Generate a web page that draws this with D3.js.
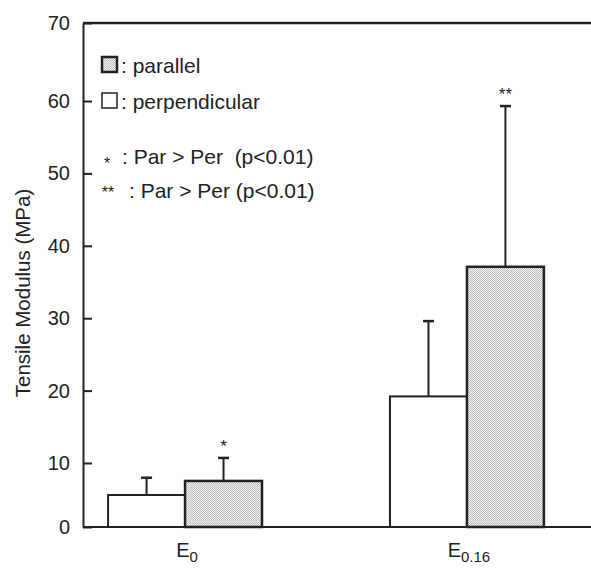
<!DOCTYPE html>
<html>
<head>
<meta charset="utf-8">
<script src="https://cdn.jsdelivr.net/npm/d3@7"></script>
<style>
  body { margin: 0; background: #fff; }
  svg text { font-family: "Liberation Sans", Arial, sans-serif; fill: #222; }
</style>
</head>
<body>
<div id="chart"></div>
<script>
// values
const categories = ["E", "E"];
const categorySubs = ["0", "0.16"];
const series = ["perpendicular", "parallel"];
const perpMean = [5.0, 19.2];
const perpSD = [2.7, 10.4];
const parMean = [7.2, 37.1];
const parSD = [3.5, 22.2];
const stars = ["*", "**"]; // placed over the parallel bar
const yTicks = [0, 10, 20, 30, 40, 50, 60, 70];

const legendRows = [
  {mark: "box", fill: "url(#dots)", text: ": parallel"},
  {mark: "box", fill: "#fff", text: ": perpendicular"},
  {mark: "*", text: ": Par > Per  (p<0.01)"},
  {mark: "**", text: ": Par > Per (p<0.01)"}
];

function main_chart(width = 591, height = 568){
  const margin = ({top: 23, right: 0, bottom: 41, left: 83});

  const svg = d3.select("#chart").append("svg")
    .attr("width", width)
    .attr("height", height);

  // stippled grey fill of the parallel bars
  const pat = svg.append("defs").append("pattern")
    .attr("id", "dots").attr("patternUnits", "userSpaceOnUse")
    .attr("width", 2).attr("height", 2);
  pat.append("rect").attr("width", 2).attr("height", 2).attr("fill", "#f2f2f2");
  pat.append("rect").attr("width", 1).attr("height", 1).attr("fill", "#bdbdbd");
  pat.append("rect").attr("x", 1).attr("y", 1).attr("width", 1).attr("height", 1).attr("fill", "#bdbdbd");

  // the scanned axis is a bit uneven at both ends, so the scale is piecewise
  const y = d3.scaleLinear()
    .domain([0, 10, 60, 70])
    .range([height - margin.bottom, 463, 101, margin.top]);

  const x0 = d3.scaleBand()
    .domain(d3.range(categories.length))
    .range([margin.left, 569])
    .paddingInner(0.454)
    .paddingOuter(0.089);

  const x1 = d3.scaleBand()
    .domain(series)
    .range([0, x0.bandwidth()]);

  const table = [];
  for (const i of d3.range(categories.length)){
    table.push({cat: i, s: "perpendicular", mean: perpMean[i], sd: perpSD[i], star: ""});
    table.push({cat: i, s: "parallel", mean: parMean[i], sd: parSD[i], star: stars[i]});
  }

  const g = svg.append("g");

  // error bars first, bars drawn over them
  g.selectAll("line.err").data(table).enter().append("line")
    .attr("x1", d => x0(d.cat) + x1(d.s) + x1.bandwidth()/2)
    .attr("x2", d => x0(d.cat) + x1(d.s) + x1.bandwidth()/2)
    .attr("y1", d => y(d.mean))
    .attr("y2", d => y(d.mean + d.sd))
    .attr("stroke", "#222").attr("stroke-width", 2);

  g.selectAll("line.cap").data(table).enter().append("line")
    .attr("x1", d => x0(d.cat) + x1(d.s) + x1.bandwidth()/2 - 5.5)
    .attr("x2", d => x0(d.cat) + x1(d.s) + x1.bandwidth()/2 + 5.5)
    .attr("y1", d => y(d.mean + d.sd))
    .attr("y2", d => y(d.mean + d.sd))
    .attr("stroke", "#222").attr("stroke-width", 2.5);

  g.selectAll("rect.bar").data(table).enter().append("rect")
    .attr("x", d => x0(d.cat) + x1(d.s))
    .attr("y", d => y(d.mean))
    .attr("width", x1.bandwidth())
    .attr("height", d => y(0) - y(d.mean))
    .attr("fill", d => d.s == "parallel" ? "url(#dots)" : "#fff")
    .attr("stroke", "#222")
    .attr("stroke-width", d => d.s == "parallel" ? 2.5 : 2);

  g.selectAll("text.star").data(table.filter(d => d.star)).enter().append("text")
    .attr("x", d => x0(d.cat) + x1(d.s) + x1.bandwidth()/2)
    .attr("y", d => y(d.mean + d.sd) - 6)
    .attr("text-anchor", "middle")
    .attr("font-size", 17)
    .text(d => d.star);

  // frame: left axis, top and bottom rules (no right side)
  svg.append("line")
    .attr("x1", margin.left).attr("x2", width)
    .attr("y1", y(70)).attr("y2", y(70))
    .attr("stroke", "#222").attr("stroke-width", 2.5);
  svg.append("line")
    .attr("x1", margin.left).attr("x2", width)
    .attr("y1", y(0)).attr("y2", y(0))
    .attr("stroke", "#222").attr("stroke-width", 2);

  const yAxis = svg.append("g")
    .attr("transform", `translate(${margin.left},0)`)
    .call(d3.axisLeft(y).tickValues(yTicks).tickSizeInner(-9).tickSizeOuter(0).tickPadding(13));
  yAxis.select(".domain").attr("stroke", "#222").attr("stroke-width", 2);
  yAxis.selectAll(".tick line").attr("stroke", "#222").attr("stroke-width", 2);
  yAxis.selectAll(".tick text").attr("font-size", 20).attr("fill", "#222")
    .attr("font-family", "Liberation Sans, Arial, sans-serif");

  // category labels with subscripts
  const catLab = svg.selectAll("text.cat").data(d3.range(categories.length)).enter().append("text")
    .attr("x", i => x0(i) + x0.bandwidth()/2 + 2)
    .attr("y", height - 11)
    .attr("text-anchor", "middle")
    .attr("font-size", 20);
  catLab.append("tspan").text(i => categories[i]);
  catLab.append("tspan").attr("font-size", 15).attr("dy", 5).text(i => categorySubs[i]);

  svg.append("text")
    .attr("transform", `translate(30,${(y(20) + y(50))/2 + 11}) rotate(-90)`)
    .attr("text-anchor", "middle")
    .attr("font-size", 20.5)
    .text("Tensile Modulus (MPa)");

  // legend
  const rowY = [73, 109, 164, 198];
  const lg = svg.append("g");
  legendRows.forEach((r, i) => {
    if (r.mark == "box"){
      lg.append("rect").attr("x", 102).attr("y", rowY[i] - 16).attr("width", 15).attr("height", 15)
        .attr("fill", r.fill).attr("stroke", "#222").attr("stroke-width", i == 0 ? 2.5 : 1.5);
      lg.append("text").attr("x", 121).attr("y", rowY[i]).attr("font-size", 21).text(r.text);
    } else {
      lg.append("text").attr("x", r.mark == "*" ? 107 : 108).attr("y", rowY[i] + (r.mark == "*" ? 5 : 0))
        .attr("text-anchor", "middle").attr("font-size", 16).text(r.mark);
      lg.append("text").attr("x", r.mark == "*" ? 122 : 129).attr("y", rowY[i])
        .attr("font-size", 21).style("white-space", "pre").text(r.text);
    }
  });

  return svg.node();
}

main_chart();
</script>
</body>
</html>
